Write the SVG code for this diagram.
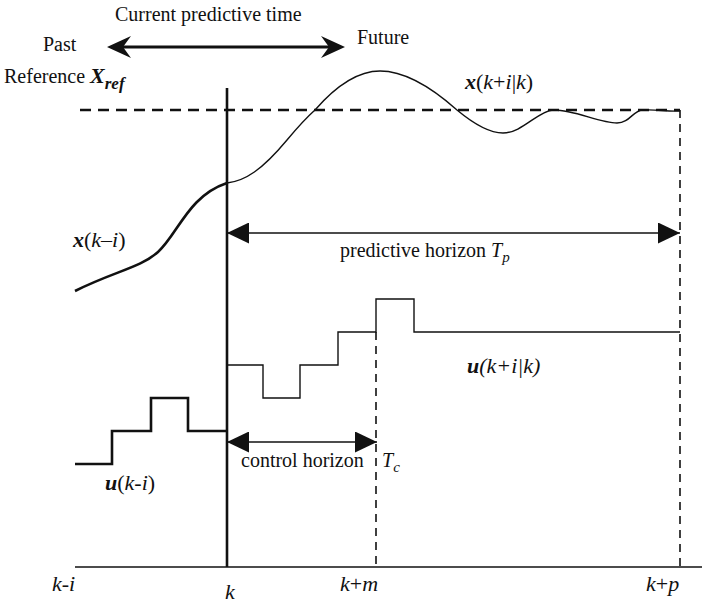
<svg xmlns="http://www.w3.org/2000/svg" width="702" height="605" viewBox="0 0 702 605">
<style>
text{font-family:"Liberation Serif",Tinos,"Times New Roman",Times,"DejaVu Serif","Noto Serif",serif;fill:#111;}
.t20{font-size:20px;}
.t22{font-size:22px;}
.it{font-style:italic;}
.bi{font-style:italic;font-weight:bold;}
.thin{fill:none;stroke:#111;stroke-width:1.4;}
.thick{fill:none;stroke:#111;stroke-width:2.6;}
.dash{fill:none;stroke:#111;stroke-width:1.6;stroke-dasharray:8 6;}
.dashT{fill:none;stroke:#111;stroke-width:2.4;stroke-dasharray:11 7;}
</style>
<defs>
<marker id="tri" viewBox="0 0 22 21" refX="22" refY="10.5" markerWidth="22" markerHeight="21" markerUnits="userSpaceOnUse" orient="auto-start-reverse">
<path d="M0,0 L22,10.5 L0,21 Z" fill="#111"/>
</marker>
</defs>
<g id="axes">
<line x1="75" y1="567" x2="702" y2="567" class="thin" style="stroke-width:1.6"/>
<line x1="227" y1="88" x2="227" y2="567" class="thick"/>
<line x1="376" y1="332" x2="376" y2="567" class="dash"/>
<line x1="680" y1="110" x2="680" y2="567" class="dash"/>
</g>
<g id="reference">
<line x1="80" y1="110" x2="680" y2="110" class="dashT"/>
<text class="t20" x="4" y="83">Reference <tspan class="bi" font-size="22">X</tspan><tspan class="bi" font-size="17" dy="6">ref</tspan></text>
</g>
<g id="time-arrow">
<line x1="118" y1="47" x2="334" y2="47" stroke="#111" stroke-width="3"/>
<path d="M107,47 L131,36 L123,47 L131,58 Z" fill="#111"/>
<path d="M345,47 L321,36 L329,47 L321,58 Z" fill="#111"/>
<text class="t20" x="115" y="21">Current predictive time</text>
<text class="t20" x="43" y="51">Past</text>
<text class="t20" x="357" y="44">Future</text>
</g>
<g id="x-past">
<path class="thick" d="M75,291 C115,271 140,268 158,252 C178,234 188,196 227,183"/>
<text class="t22" x="73" y="247"><tspan class="bi">x</tspan>(<tspan class="it">k</tspan>–<tspan class="it">i</tspan>)</text>
</g>
<g id="x-future">
<path class="thin" d="M227,183 C245,181 262,170 287,140 C297,128 306,118 315,110 C335,87 358,71 380,71 C405,71 430,86 457,110 C475,125 490,133 503,133 C522,133 538,111 553,110 C572,109 600,123 617,123 C630,123 633,110 643,110 C657,109 667,112 680,111"/>
<text class="t22" x="465" y="89"><tspan class="bi">x</tspan>(<tspan class="it">k</tspan>+<tspan class="it">i</tspan>|<tspan class="it">k</tspan>)</text>
</g>
<g id="u-past">
<path class="thick" d="M75,464 H112 V431 H151 V398 H188 V431 H227"/>
<text class="t22" x="105" y="490"><tspan class="bi">u</tspan>(<tspan class="it">k</tspan>-<tspan class="it">i</tspan>)</text>
</g>
<g id="u-future">
<path class="thin" d="M227,365 H263 V398 H300 V365 H338 V332 H376 V299 H414 V332 H680"/>
<text class="t22 it" x="467" y="373"><tspan font-weight="bold">u</tspan>(k+i|k)</text>
</g>
<g id="horizons">
<line x1="227" y1="233" x2="680" y2="233" class="thin" marker-start="url(#tri)" marker-end="url(#tri)"/>
<text class="t20" x="340" y="257">predictive horizon <tspan class="it">T</tspan><tspan class="it" font-size="15" dy="5">p</tspan></text>
<line x1="227" y1="442" x2="377" y2="442" class="thin" marker-start="url(#tri)" marker-end="url(#tri)"/>
<text class="t20" x="241" y="467">control horizon</text>
<text class="t20 it" x="382" y="467">T<tspan font-size="15" dy="5">c</tspan></text>
</g>
<g id="ticks">
<text class="t22 it" x="52" y="591">k-i</text>
<text class="t22 it" x="225" y="599">k</text>
<text class="t22" x="340" y="591"><tspan class="it">k</tspan>+<tspan class="it">m</tspan></text>
<text class="t22" x="646" y="591"><tspan class="it">k</tspan>+<tspan class="it">p</tspan></text>
</g>
</svg>
